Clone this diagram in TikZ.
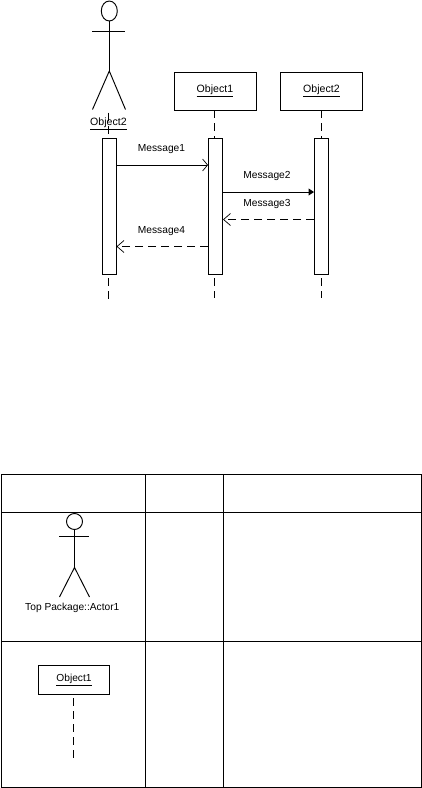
\documentclass[tikz,border=0pt]{standalone}
\usepackage{fontspec}
\setmainfont{Liberation Sans}
\usetikzlibrary{arrows.meta,shapes.geometric}
\tikzset{
  every path/.style={line width=0.95pt},
  lbl/.style={inner sep=0pt,font=\fontsize{10.2}{12}\selectfont},
  objbox/.style={draw,fill=white,inner sep=0pt,minimum width=82pt,minimum height=38pt,font=\fontsize{10.6}{12}\selectfont},
  activation/.style={draw,fill=white,inner sep=0pt,minimum width=14pt,minimum height=136pt},
  life/.style={dash pattern=on 8pt off 5pt},
  sync/.style={-{Straight Barb[length=5pt,width=12pt,line width=0.7pt]}},
  filled/.style={-{Triangle[length=5.5pt,width=7pt]}},
  reply/.style={life,-{Straight Barb[length=7pt,width=12pt,line width=0.7pt]}}
}
\newcommand{\objlabel}[1]{\raisebox{-1.5pt}{\underline{#1}}}
\begin{document}
\begin{tikzpicture}[x=1pt,y=-1pt]
\useasboundingbox (0,0) rectangle (422,788);
% top actor
\node[draw,ellipse,inner sep=0pt,minimum width=16pt,minimum height=20pt] (h1) at (109.3,11) {};
\coordinate (hip1) at (109.3,71);
\coordinate (la1) at (92,31.5);\coordinate (ra1) at (125,31.5);
\coordinate (ll1) at (92.5,109.5);\coordinate (rl1) at (125.5,109.5);
\draw (h1.south) -- (hip1);
\draw (la1) -- (ra1);
\draw (ll1) -- (hip1) -- (rl1);
\node[lbl,font=\fontsize{10.6}{12}\selectfont] (al) at (108.5,124.2) {\underline{Object2}};
% objects
\node[objbox] (o1) at (215,91) {\objlabel{Object1}};
\node[objbox] (o2) at (321.5,91) {\objlabel{Object2}};
% activations
\node[activation] (b0) at (109,206) {};
\node[activation] (b1) at (215.5,206) {};
\node[activation] (b2) at (321.5,206) {};
% lifelines
\coordinate (t0) at (108,112.5);
\coordinate (e0) at (108,300);\coordinate (e1) at (214.5,298);\coordinate (e2) at (321.5,298);
\draw[life] (t0) -- (t0 |- b0.north);
\draw[life] (o1.south -| e1) -- (e1 |- b1.north);
\draw[life] (o2.south -| e2) -- (e2 |- b2.north);
\draw[life] (e0 |- b0.south) ++(0,4) -- (e0);
\draw[life] (e1 |- b1.south) ++(0,4) -- (e1);
\draw[life] (e2 |- b2.south) ++(0,4) -- (e2);
% messages
\coordinate (m1) at (0,165);\coordinate (m2) at (0,192);\coordinate (m3) at (0,219.5);\coordinate (m4) at (0,246.5);
\draw[sync] (b0.east |- m1) -- (b1.west |- m1);
\draw[filled] (b1.east |- m2) -- (b2.west |- m2);
\draw[reply] (b2.west |- m3) -- (b1.east |- m3);
\draw[reply] (b1.west |- m4) -- (b0.east |- m4);
\node[lbl] (t1) at (161.5,149) {Message1};
\node[lbl] (t2) at (267,176) {Message2};
\node[lbl] (t3) at (267,204) {Message3};
\node[lbl] (t4) at (161.5,231.5) {Message4};
% table
\coordinate (A) at (1.5,474.5);\coordinate (B) at (421.4,787.5);
\draw (A) rectangle (B);
\coordinate (c1) at (145.5,0);\coordinate (c2) at (223.5,0);
\coordinate (r1) at (0,512.5);\coordinate (r2) at (0,641.5);
\draw (c1 |- A) -- (c1 |- B);
\draw (c2 |- A) -- (c2 |- B);
\draw (A |- r1) -- (B |- r1);
\draw (A |- r2) -- (B |- r2);
% table actor
\node[draw,circle,inner sep=0pt,minimum size=16pt] (h2) at (74.5,521.5) {};
\coordinate (hip2) at (74.5,567.5);
\coordinate (la2) at (59,536.5);\coordinate (ra2) at (89,536.5);
\coordinate (ll2) at (59.5,597);\coordinate (rl2) at (89.5,597);
\draw (h2.south) -- (hip2);
\draw (la2) -- (ra2);
\draw (ll2) -- (hip2) -- (rl2);
\node[lbl] (tp) at (72.3,608.3) {Top Package::Actor1};
% table object
\node[objbox,minimum width=71pt,minimum height=29pt,font=\fontsize{10.2}{12}\selectfont] (o3) at (74,680) {\objlabel{Object1}};
\coordinate (e3) at (73.3,759);
\draw[life] (o3.south -| e3) ++(0,3.5) -- (e3);
\end{tikzpicture}
\end{document}
